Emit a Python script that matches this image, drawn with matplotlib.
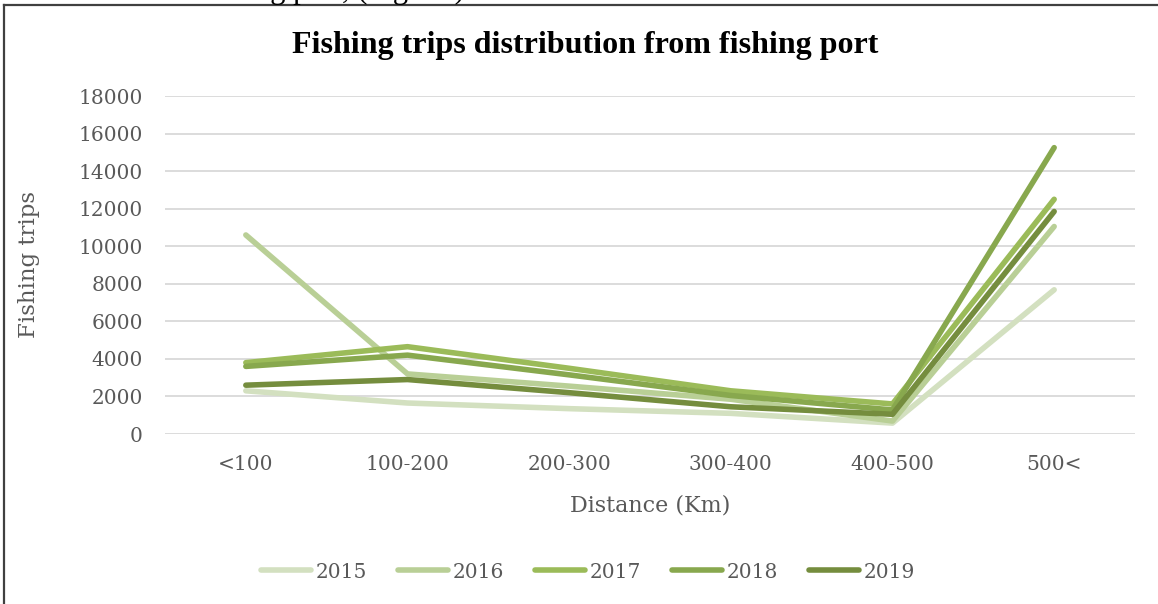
import matplotlib
matplotlib.use("Agg")
import matplotlib.pyplot as plt
from matplotlib.lines import Line2D

# distance classes and yearly fishing trips
distances = ["<100", "100-200", "200-300", "300-400", "400-500", "500<"]
years = ["2015", "2016", "2017", "2018", "2019"]
trips_2015 = [2300, 1650, 1350, 1100, 580, 7680]
trips_2016 = [10600, 3200, 2550, 1850, 690, 11050]
trips_2017 = [3800, 4650, 3500, 2300, 1600, 12500]
trips_2018 = [3600, 4200, 3150, 2050, 1280, 15250]
trips_2019 = [2600, 2900, 2200, 1450, 1050, 11850]
yticks = list(range(0, 18001, 2000))

colors = ["#d3e0c0", "#b9cf96", "#9bbb59", "#88a84e", "#758d3e"]
series = [trips_2015, trips_2016, trips_2017, trips_2018, trips_2019]

plt.rcParams["font.family"] = ["DejaVu Serif"]
times = ["Liberation Serif", "DejaVu Serif"]

fig = plt.figure(figsize=(11.58, 6.04), dpi=100)
ax = fig.add_axes([165 / 1158, 1 - 434 / 604, 970 / 1158, 338 / 604])

x = list(range(len(distances)))
for year, vals, c in zip(years, series, colors):
    ax.plot(x, vals, color=c, lw=4.0, label=year,
            solid_capstyle="round", solid_joinstyle="round")

ax.set_xlim(-0.5, len(distances) - 0.5)
ax.set_ylim(0, 18000)
ax.set_yticks(yticks)
ax.set_xticks(x)
ax.set_xticklabels(distances)
ax.grid(axis="y", color="#d9d9d9", lw=1.3)
ax.set_axisbelow(True)
for s in ax.spines.values():
    s.set_visible(False)
ax.tick_params(length=0, labelsize=14.5, colors="#595959")
ax.tick_params(axis="y", pad=16)
ax.tick_params(axis="x", pad=15)

ax.set_ylabel("Fishing trips", fontsize=16.5, color="#595959")
ax.yaxis.set_label_coords(-0.129, 0.5)
ax.set_xlabel("Distance (Km)", fontsize=16, color="#595959")
ax.xaxis.set_label_coords(0.5, -0.178)

fig.text(585 / 1158, 1 - 46 / 604, "Fishing trips distribution from fishing port",
         ha="center", va="center", fontsize=23, fontweight="bold", color="black",
         family=times)

fig.legend(loc="center", bbox_to_anchor=(588 / 1158, 1 - 572 / 604), ncol=5,
           frameon=False, fontsize=14.5, handlelength=2.5, handletextpad=0.25,
           columnspacing=1.5, labelcolor="#595959")

# frame of the chart box
fig.add_artist(Line2D([4 / 1158, 4 / 1158], [0, 1 - 5 / 604], color="#404040",
                      lw=1.6, transform=fig.transFigure))
fig.add_artist(Line2D([4 / 1158, 1], [1 - 5 / 604, 1 - 5 / 604], color="#404040",
                      lw=1.6, transform=fig.transFigure))

# body text running above the chart
fig.text(255 / 1158, 1 + 2 / 604, "ng port, (Figure )", ha="left", va="baseline",
         fontsize=22, color="black", family=times)

fig.savefig("out.png", dpi=100)
